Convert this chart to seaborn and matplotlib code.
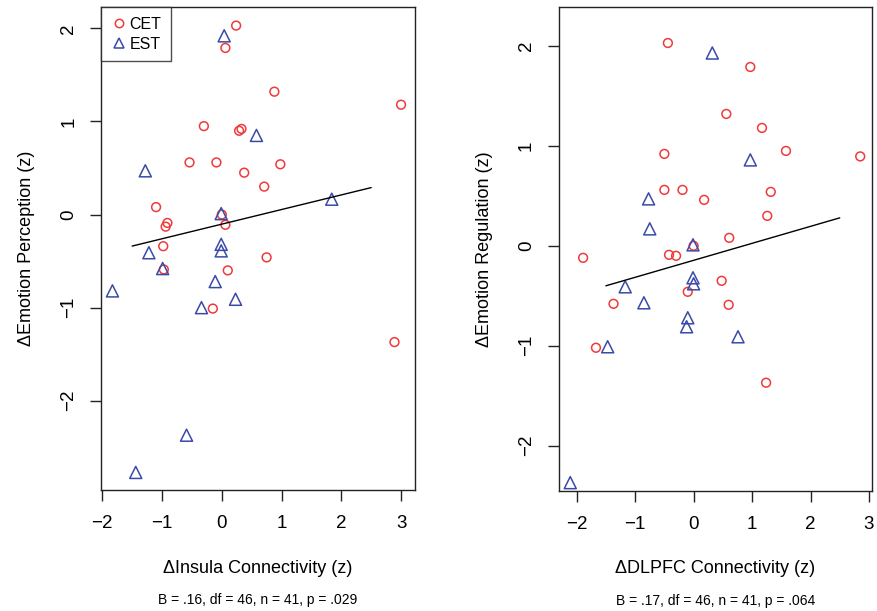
import seaborn as sns
import pandas as pd
import matplotlib.pyplot as plt
from matplotlib.lines import Line2D

# Left panel: insula connectivity vs emotion perception
insula_cet_x = [0.24, 0.06, 0.88, 3.00, -0.30, 0.33, 0.29, -0.54, -0.09, 0.98, 0.375, 0.71,
                -1.10, 0.00, -0.91, 0.06, -0.94, -0.98, 0.75, -0.97, 0.10, -0.15, 2.89]
perception_cet_y = [2.03, 1.79, 1.32, 1.18, 0.95, 0.92, 0.90, 0.56, 0.56, 0.54, 0.45, 0.30,
                    0.08, 0.00, -0.09, -0.11, -0.13, -0.34, -0.46, -0.59, -0.60, -1.01, -1.37]
insula_est_x = [0.04, 0.58, -1.28, 1.84, -0.01, -0.01, -0.01, -1.22, -0.99, -0.11, -1.83,
                0.23, -0.34, -0.59, -1.44]
perception_est_y = [1.92, 0.85, 0.47, 0.165, 0.01, -0.32, -0.39, -0.41, -0.58, -0.72, -0.82,
                    -0.91, -1.00, -2.37, -2.77]

# Right panel: DLPFC connectivity vs emotion regulation
dlpfc_cet_x = [-0.44, 0.97, 0.56, 1.17, 1.58, -0.50, 2.85, -0.50, -0.19, 1.32, 0.18, 1.26,
               0.61, 0.00, -0.42, -0.30, -1.89, 0.48, -0.10, -1.37, 0.60, -1.67, 1.24]
regulation_cet_y = [2.03, 1.79, 1.32, 1.18, 0.95, 0.92, 0.895, 0.56, 0.56, 0.54, 0.46, 0.30,
                    0.08, 0.00, -0.09, -0.10, -0.12, -0.35, -0.46, -0.58, -0.59, -1.02, -1.37]
dlpfc_est_x = [0.32, 0.97, -0.77, -0.75, -0.01, -0.01, 0.00, -1.17, -0.85, -0.10, -0.12,
               0.76, -1.47, -2.11]
regulation_est_y = [1.93, 0.86, 0.47, 0.17, 0.01, -0.32, -0.38, -0.41, -0.57, -0.72, -0.81,
                    -0.91, -1.01, -2.37]

# fitted lines (slope, intercept) and the x range they span
fit_x = [-1.5, 2.5]
insula_fit = (0.157, -0.103)
dlpfc_fit = (0.170, -0.145)

x_ticks = [-2, -1, 0, 1, 2, 3]
y_ticks = [-2, -1, 0, 1, 2]

sns.set_style("white")
plt.rcParams['font.family'] = ['Liberation Sans', 'DejaVu Sans']
plt.rcParams['axes.unicode_minus'] = True
plt.rcParams['text.color'] = 'black'
plt.rcParams['axes.labelcolor'] = 'black'
plt.rcParams['xtick.color'] = 'black'
plt.rcParams['ytick.color'] = 'black'

red = "#f03a3a"
blue = "#3a4aa8"

fig = plt.figure(figsize=(8.78, 6.11), dpi=100)
ax1 = fig.add_axes([0.1150, 0.198, 0.3573, 0.790])
ax2 = fig.add_axes([0.6363, 0.197, 0.3565, 0.791])


def panel(ax, cx, cy, ex, ey, fit, xlim, ylim, xlabel, ylabel, stats):
    df_c = pd.DataFrame({"x": cx, "y": cy})
    df_e = pd.DataFrame({"x": ex, "y": ey})
    sns.scatterplot(data=df_c, x="x", y="y", ax=ax, marker="o", s=40,
                    facecolors="none", edgecolor=red, linewidth=1.1, label="CET")
    sns.scatterplot(data=df_e, x="x", y="y", ax=ax, marker="^", s=75,
                    facecolors="none", edgecolor=blue, linewidth=1.1, label="EST")
    df_fit = pd.DataFrame({"x": fit_x, "y": [fit[0] * v + fit[1] for v in fit_x]})
    sns.lineplot(data=df_fit, x="x", y="y", ax=ax, color="black", linewidth=1.0)

    ax.set_xlim(*xlim)
    ax.set_ylim(*ylim)
    ax.set_xticks(x_ticks)
    ax.set_yticks(y_ticks)
    for sp in ax.spines.values():
        sp.set_visible(True)
        sp.set_color("#222222")
        sp.set_linewidth(1.0)
    ax.tick_params(axis="both", direction="out", length=8, width=1.0,
                   color="#222222", labelcolor="black", labelsize=13.5,
                   bottom=True, left=True)
    ax.tick_params(axis="x", pad=10)
    ax.tick_params(axis="y", pad=9)
    for lab in ax.get_yticklabels():
        lab.set_rotation(90)
        lab.set_va("center")

    ax.set_xlabel(xlabel, fontsize=13, color="black")
    ax.set_ylabel(ylabel, fontsize=13, color="black")
    ax.xaxis.set_label_coords(0.5, -0.162)
    ax.xaxis.label.set_va("center")
    ax.yaxis.set_label_coords(-0.236, 0.5)
    ax.yaxis.label.set_va("center")
    ax.text(0.5, -0.228, stats, transform=ax.transAxes, ha="center", va="center",
            fontsize=10, color="black")


panel(ax1, insula_cet_x, perception_cet_y, insula_est_x, perception_est_y, insula_fit,
      (-2.022, 3.228), (-2.959, 2.226),
      "\u0394Insula Connectivity (z)", "\u0394Emotion Perception (z)",
      "B = .16, df = 46, n = 41, p = .029")
panel(ax2, dlpfc_cet_x, regulation_cet_y, dlpfc_est_x, regulation_est_y, dlpfc_fit,
      (-2.308, 3.046), (-2.45, 2.387),
      "\u0394DLPFC Connectivity (z)", "\u0394Emotion Regulation (z)",
      "B = .17, df = 46, n = 41, p = .064")

ax2.get_legend().remove()
handles = [
    Line2D([], [], marker="o", linestyle="none", markerfacecolor="none",
           markeredgecolor=red, markersize=6, markeredgewidth=1.1, label="CET"),
    Line2D([], [], marker="^", linestyle="none", markerfacecolor="none",
           markeredgecolor=blue, markersize=7.5, markeredgewidth=1.1, label="EST"),
]
leg = ax1.legend(handles=handles, loc="upper left", frameon=True, fancybox=False,
                 fontsize=11.5, borderaxespad=0, handletextpad=0.2, handlelength=1.0,
                 borderpad=0.6, labelspacing=0.3)
leg.get_frame().set_edgecolor("#222222")
leg.get_frame().set_linewidth(1.0)
for t in leg.get_texts():
    t.set_color("black")

plt.savefig("out.png", dpi=100)
